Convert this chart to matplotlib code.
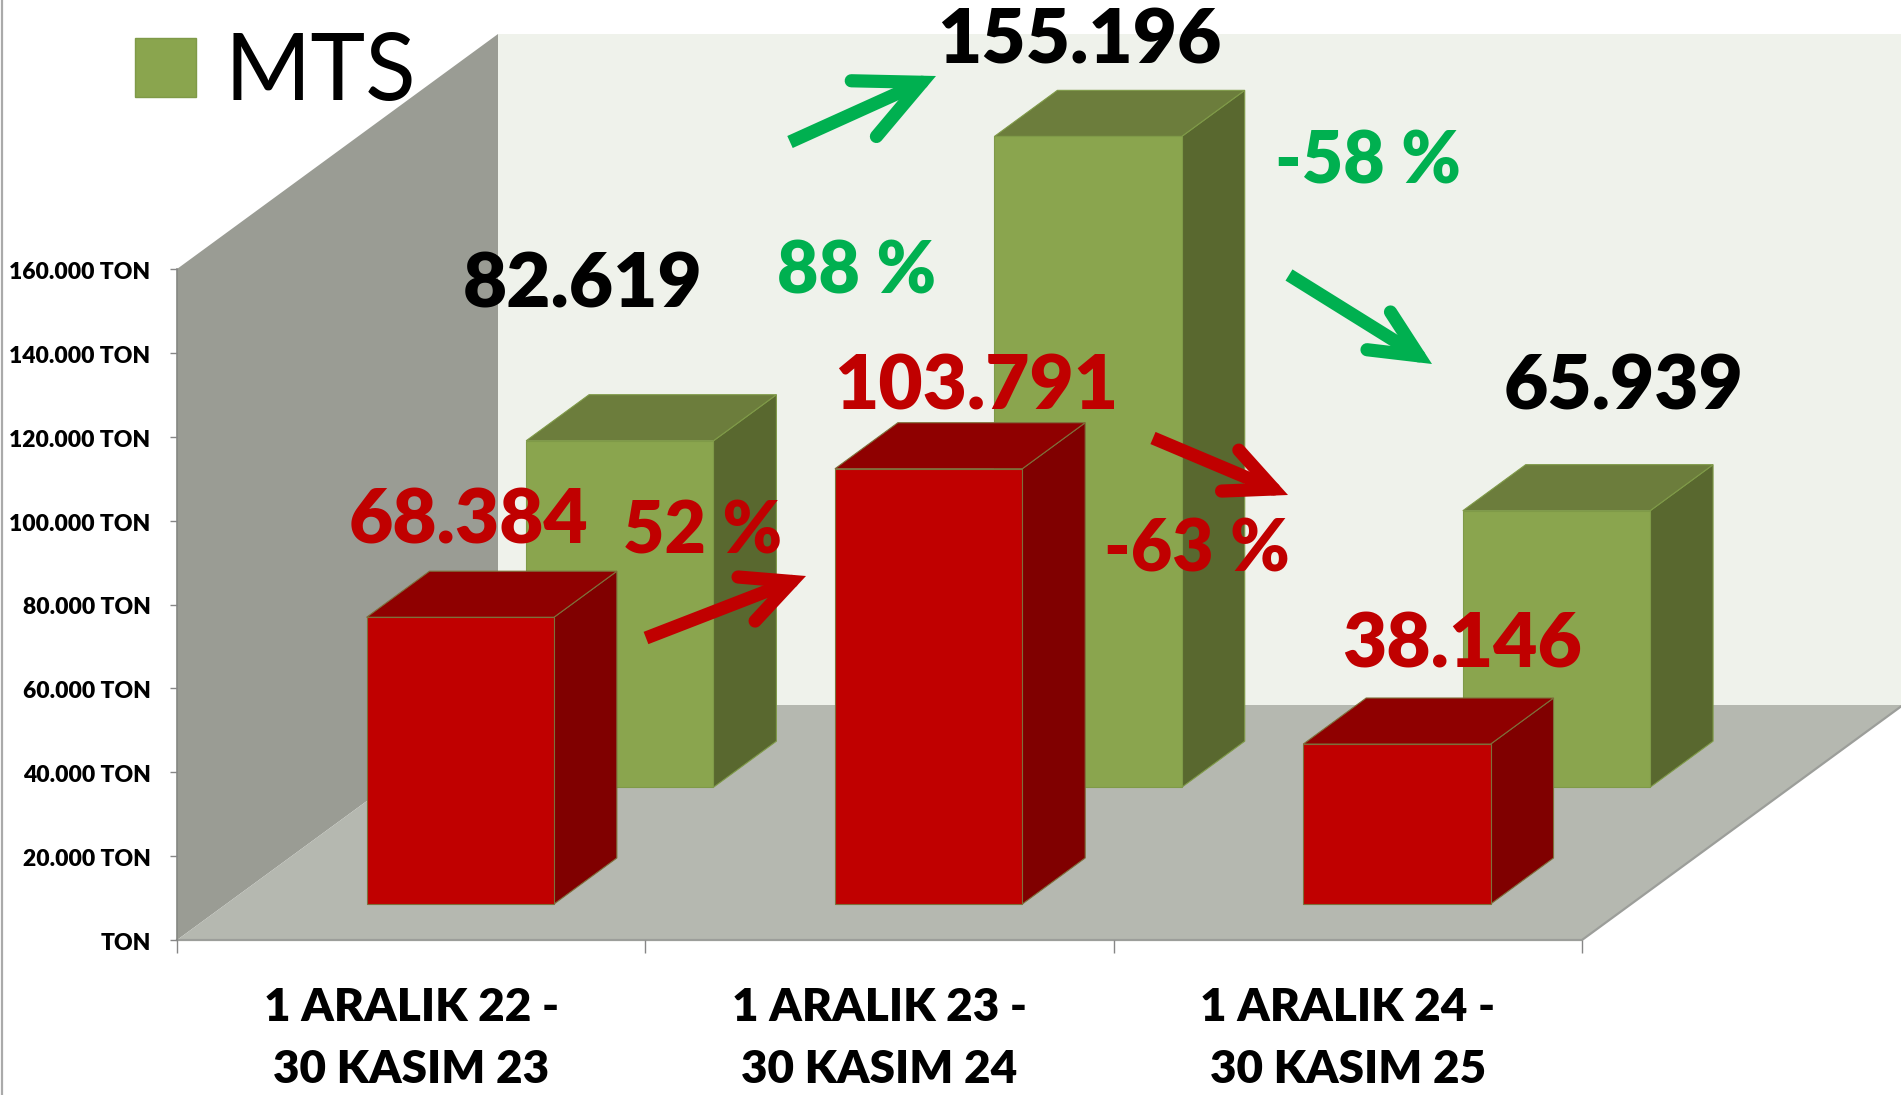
import matplotlib
matplotlib.use("Agg")
import matplotlib.pyplot as plt
from matplotlib.patches import Polygon, Patch, FancyArrowPatch
from matplotlib.lines import Line2D
from matplotlib.transforms import ScaledTranslation

plt.rcParams['font.family'] = ['Lato', 'DejaVu Sans']

categories = ["1 ARALIK 22 -\n30 KASIM 23", "1 ARALIK 23 -\n30 KASIM 24", "1 ARALIK 24 -\n30 KASIM 25"]
mts_values = [82619, 155196, 65939]
red_values = [68384, 103791, 38146]
mts_change = ["88 %", "-58 %"]
red_change = ["52 %", "-63 %"]
y_ticks = [0, 20000, 40000, 60000, 80000, 100000, 120000, 140000, 160000]
legend_label = "MTS"

W, H = 1901, 1095
fig = plt.figure(figsize=(W / 100, H / 100), dpi=100, facecolor="white")
X0, X1, YB, YT = 177, 1582, 940, 269
ax = fig.add_axes([X0 / W, 1 - YB / H, (X1 - X0) / W, (YB - YT) / H])
ax.set_xlim(0, 3)
ax.set_ylim(0, 160000)
ax.patch.set_visible(False)
for s in ax.spines.values():
    s.set_visible(False)

# oblique depth of the 3-D box, in data units
DX = 321 / ((X1 - X0) / 3)
DY = 235 / ((YB - YT) / 160000)
BAR_W = 0.40
BAR_D = 0.196

def poly(pts, **kw):
    p = Polygon(pts, closed=True, clip_on=False, **kw)
    ax.add_patch(p)

# walls and floor
poly([(DX, DY), (3 + DX, DY), (3 + DX, 160000 + DY), (DX, 160000 + DY)], fc="#EFF2EB", ec="none", zorder=1)
poly([(0, 0), (0, 160000), (DX, 160000 + DY), (DX, DY)], fc="#9A9C94", ec="none", zorder=1.2)
poly([(0, 0), (3, 0), (3 + DX, DY), (DX, DY)], fc="#B5B8B0", ec="none", zorder=1.4)
ax.plot([0, 3, 3 + DX], [0, 0, DY], color="#9C9E9A", lw=1.6, clip_on=False, zorder=1.5)
ax.plot([0, 0], [0, 160000], color="#858782", lw=1.2, clip_on=False, zorder=1.5)

def bars3d(values, depth, front, top, side, edge, z):
    for i, v in enumerate(values):
        cx = i + 0.5 + depth * DX
        base = depth * DY
        l, r = cx - BAR_W / 2, cx + BAR_W / 2
        ddx, ddy = BAR_D * DX, BAR_D * DY
        poly([(r, base), (r + ddx, base + ddy), (r + ddx, base + v + ddy), (r, base + v)],
             fc=side, ec=edge, lw=0.8, zorder=z)
        poly([(l, base + v), (r, base + v), (r + ddx, base + v + ddy), (l + ddx, base + v + ddy)],
             fc=top, ec=edge, lw=0.8, zorder=z)
        ax.bar(cx, v, width=BAR_W, bottom=base, color=front, edgecolor=edge, linewidth=0.8,
               clip_on=False, zorder=z + 0.1)

bars3d(mts_values, 0.65, "#8AA54E", "#6C7D3C", "#59682F", "#7F9A48", 2)
bars3d(red_values, 0.153, "#C00000", "#8F0000", "#800000", "#7E6F3A", 3)

# axes ticks
ax.set_yticks(y_ticks)
ax.set_yticklabels([("TON" if t == 0 else f"{t:,} TON".replace(",", ".")) for t in y_ticks],
                   fontsize=16.5, fontweight="heavy", color="black")
ax.tick_params(axis="y", length=5, width=1, color="#868686", pad=14)
for t in ax.get_yticklabels():
    t.set_transform(t.get_transform() + ScaledTranslation(0, -1.5 / 100, fig.dpi_scale_trans))
ax.set_xticks([0, 1, 2, 3])
ax.set_xticklabels([])
ax.tick_params(axis="x", which="major", length=9.5, width=1, color="#868686")
ax.set_xticks([0.5, 1.5, 2.5], minor=True)
ax.set_xticklabels(categories, minor=True, fontsize=33, fontweight="heavy", color="black", linespacing=1.62)
ax.tick_params(axis="x", which="minor", length=0, pad=33.5)

def label(x, y, s, color, size=55):
    fig.text(x / W, 1 - y / H, s, color=color, fontsize=size, fontweight="heavy",
             ha="center", va="baseline", zorder=6)

fmt = lambda v: f"{v:,}".replace(",", ".")
GREEN, RED = "#00B050", "#C00000"
for (x, y), v in zip([(583, 308), (1079, 63), (1624, 409)], mts_values):
    label(x, y, fmt(v), "black")
for (x, y), v in zip([(468, 543), (976, 410), (1462, 668)], red_values):
    label(x, y, fmt(v), RED)
for (x, y), s in zip([(857, 294), (1368, 183)], mts_change):
    label(x, y, s, GREEN, 51.5)
for (x, y), s in zip([(703, 554), (1197, 572)], red_change):
    label(x, y, s, RED, 51.5)

def arrow(a, b, color, hl, hw):
    A = (a[0] / W, 1 - a[1] / H)
    B = (b[0] / W, 1 - b[1] / H)
    mid = (A[0] + 0.8 * (B[0] - A[0]), A[1] + 0.8 * (B[1] - A[1]))
    near = (A[0] + 0.9 * (B[0] - A[0]), A[1] + 0.9 * (B[1] - A[1]))
    fig.add_artist(Line2D([A[0], near[0]], [A[1], near[1]], transform=fig.transFigure,
                          color=color, lw=9.5, solid_capstyle="butt", zorder=6))
    fig.add_artist(FancyArrowPatch(mid, B, transform=fig.transFigure,
                                   arrowstyle=f"->,head_length={hl},head_width={hw}", mutation_scale=1,
                                   lw=9.5, color=color, shrinkA=0, shrinkB=0,
                                   joinstyle="miter", capstyle="round", zorder=6))

arrow((790, 142), (936, 76), GREEN, 46, 22)
arrow((1289, 275), (1432, 364), GREEN, 34, 16)
arrow((646, 638), (806, 576), RED, 35, 17)
arrow((1153, 438), (1288, 495), RED, 34, 16)

# legend
leg = fig.legend(handles=[Patch(fc="#8AA54E", ec="#7F9A48", label=legend_label)],
                 loc="upper left", bbox_to_anchor=(135 / W, 1 - 32 / H), frameon=False,
                 fontsize=67, borderpad=0, borderaxespad=0, handlelength=0.66, handleheight=0.6,
                 handletextpad=0.30)

# thin rule at the picture's left edge
fig.add_artist(Line2D([1.8 / W, 1.8 / W], [0, 1], transform=fig.transFigure, color="#AAAAAA", lw=1.6))

fig.savefig("out.png", dpi=100)
